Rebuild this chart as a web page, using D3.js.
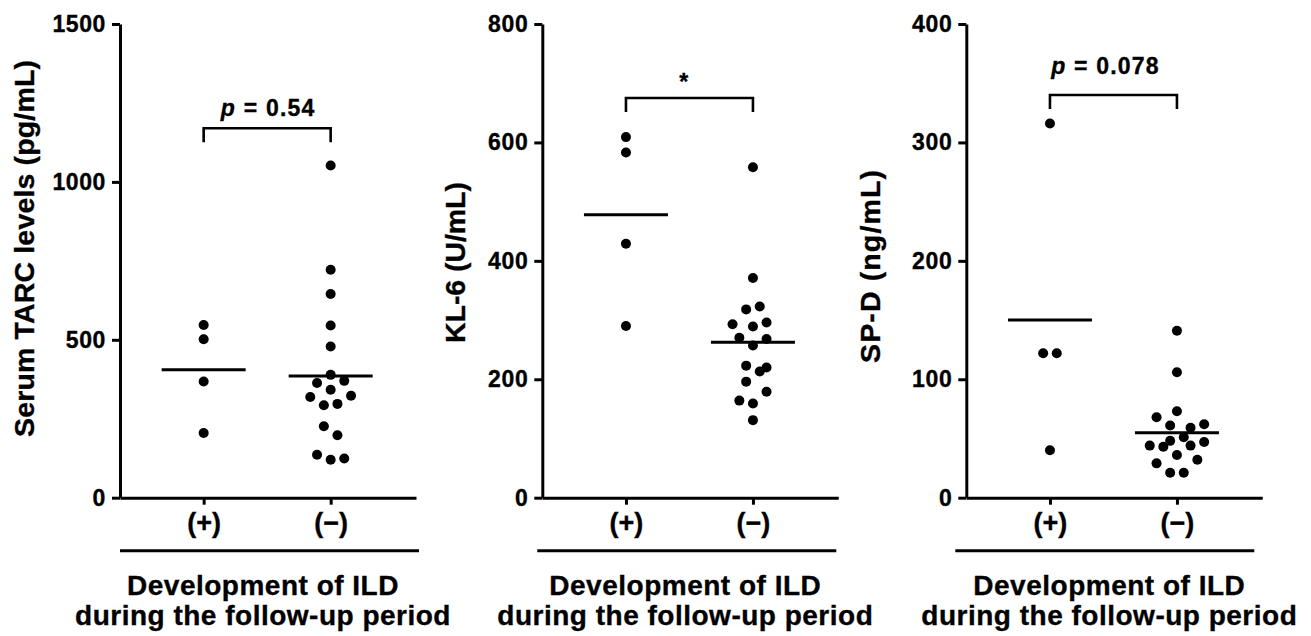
<!DOCTYPE html>
<html><head><meta charset="utf-8">
<script src="https://cdn.jsdelivr.net/npm/d3@7"></script>
<style>
html,body{margin:0;padding:0;background:#fff;}
svg{display:block;font-family:"Liberation Sans",Arial,Helvetica,sans-serif;font-weight:bold;}
svg text{stroke:#000;stroke-width:0.35px;}
</style></head><body>
<svg id="chart" width="1311" height="636"></svg>
<script>
// ---------- data ----------
const groups = ["(+)", "(\u2212)"];

const tarcTicks = [0, 500, 1000, 1500];
const tarcPos = [547, 502, 368, 205];
const tarcPosSlot = [0, 0, 0, 0];
const tarcNeg = [1052, 722, 645, 545, 479, 389, 370, 363, 342, 323, 319, 297, 293, 226, 198, 136, 124, 120];
const tarcNegSlot = [0, 0, 0, 0, 0, 0, 2, -2, 0, 3, -3, 1, -1, -1, 1, -2, 2, 0];

const kl6Ticks = [0, 200, 400, 600, 800];
const kl6Pos = [609, 583, 429, 290];
const kl6PosSlot = [0, 0, 0, 0];
const kl6Neg = [558, 371, 323, 318, 296, 293, 289, 270, 268, 257, 223, 220, 213, 196, 179, 164, 159, 131];
const kl6NegSlot = [0, 0, 1, -1, 2, -3, 0, -2, 2, 0, -1, 2, 1, -1, 2, -2, 0, 0];

const spdTicks = [0, 100, 200, 300, 400];
const spdPos = [316, 122, 122, 40];
const spdPosSlot = [0, -1, 1, 0];
const spdNeg = [141, 106, 73, 68, 62, 61, 59, 51, 48, 47, 44, 43, 44, 36, 32, 29, 21, 21];
const spdNegSlot = [0, 0, 0, -3, 4, -1, 2, 1, -1, 4, -4, -2, 2, 0, 3, -3, -1, 1];

const yTitles = ["Serum TARC levels (pg/mL)", "KL-6 (U/mL)", "SP-D (ng/mL)"];
const sigLabels = ["p = 0.54", "*", "p = 0.078"];
const bracketLevels = [1170, 675, 340];
const xTitleLines = ["Development of ILD", "during the follow-up period"];

// ---------- layout ----------
const panels = [
  {ticks: tarcTicks, vals: [tarcPos, tarcNeg], slots: [tarcPosSlot, tarcNegSlot],
   left: 120, titleX: -86.5, titleY: 248.5, titleLen: 377, sigGap: 12.3, sigDx: 1, underDx: 0},
  {ticks: kl6Ticks, vals: [kl6Pos, kl6Neg], slots: [kl6PosSlot, kl6NegSlot],
   left: 542.3, titleX: -77.3, titleY: 262.5, titleLen: 161, sigGap: 8, sigDx: -5, underDx: -5},
  {ticks: spdTicks, vals: [spdPos, spdNeg], slots: [spdPosSlot, spdNegSlot],
   left: 966.3, titleX: -86.3, titleY: 266.5, titleLen: 193, sigGap: 20.7, sigDx: -8, underDx: -11}
];
const plotTop = 24, plotBottom = 497.7, plotW = 296;
const slotStep = 6.8, dotR = 5, meanHalf = 42, legLen = 14;
const sw = 3;

const svg = d3.select("#chart");

panels.forEach((p, i) => {
  const g = svg.append("g").attr("transform", `translate(${p.left},0)`);
  const y = d3.scaleLinear().domain([0, d3.max(p.ticks)]).range([plotBottom, plotTop]);
  const x = d3.scalePoint().domain(groups).range([0, plotW]).padding(0.6654).align(0.495);

  // y axis
  const ya = g.append("g").call(d3.axisLeft(y).tickValues(p.ticks).tickFormat(d3.format("d"))
    .tickSize(8).tickPadding(6).tickSizeOuter(0));
  ya.selectAll("path,line").attr("stroke", "#000").attr("stroke-width", sw);
  ya.selectAll("text").attr("font-size", 23).attr("font-weight", "bold").attr("fill", "#000")
    .attr("font-family", '"Liberation Sans",Arial,sans-serif').attr("letter-spacing", 0.6);

  // x axis
  const xa = g.append("g").attr("transform", `translate(0,${plotBottom})`)
    .call(d3.axisBottom(x).tickSize(7).tickPadding(8.4).tickSizeOuter(0));
  xa.selectAll("path,line").attr("stroke", "#000").attr("stroke-width", sw);
  xa.selectAll("text").attr("font-size", 27).attr("font-weight", "bold").attr("fill", "#000")
    .attr("font-family", '"Liberation Sans",Arial,sans-serif');

  // y title
  g.append("text")
    .attr("transform", `translate(${p.titleX},${p.titleY}) rotate(-90)`)
    .attr("text-anchor", "middle").attr("font-size", 28.5)
    .attr("textLength", p.titleLen).attr("lengthAdjust", "spacing")
    .text(yTitles[i]);

  // dots
  groups.forEach((grp, gi) => {
    const vals = p.vals[gi], slots = p.slots[gi];
    g.append("g").selectAll("circle").data(vals).join("circle")
      .attr("cx", (d, k) => x(grp) + slots[k] * slotStep)
      .attr("cy", d => y(d))
      .attr("r", dotR).attr("fill", "#000");
    const m = d3.mean(vals);
    g.append("line")
      .attr("x1", x(grp) - meanHalf).attr("x2", x(grp) + meanHalf)
      .attr("y1", y(m)).attr("y2", y(m))
      .attr("stroke", "#000").attr("stroke-width", sw);
  });

  // bracket
  const by = y(bracketLevels[i]);
  const x0 = x(groups[0]), x1 = x(groups[1]);
  g.append("path")
    .attr("d", `M${x0},${by + legLen}V${by}H${x1}V${by + legLen}`)
    .attr("fill", "none").attr("stroke", "#000").attr("stroke-width", sw - 0.4);
  const st = g.append("text").attr("x", (x0 + x1) / 2 + p.sigDx).attr("y", by - p.sigGap)
    .attr("text-anchor", "middle").attr("font-size", 23).attr("letter-spacing", 1.2);
  const lab = sigLabels[i];
  if (lab.startsWith("p ")) {
    st.append("tspan").attr("font-style", "italic").text("p");
    st.append("tspan").text(lab.slice(1));
  } else {
    st.text(lab);
  }

  // underline + group title
  g.append("line").attr("x1", p.underDx).attr("x2", p.underDx + 299)
    .attr("y1", 550.7).attr("y2", 550.7).attr("stroke", "#000").attr("stroke-width", sw);
  xTitleLines.forEach((t, li) => {
    g.append("text").attr("x", 143).attr("y", 595 + li * 30)
      .attr("text-anchor", "middle").attr("font-size", 28).attr("letter-spacing", 0.5)
      .text(t);
  });
});
</script>
</body></html>
